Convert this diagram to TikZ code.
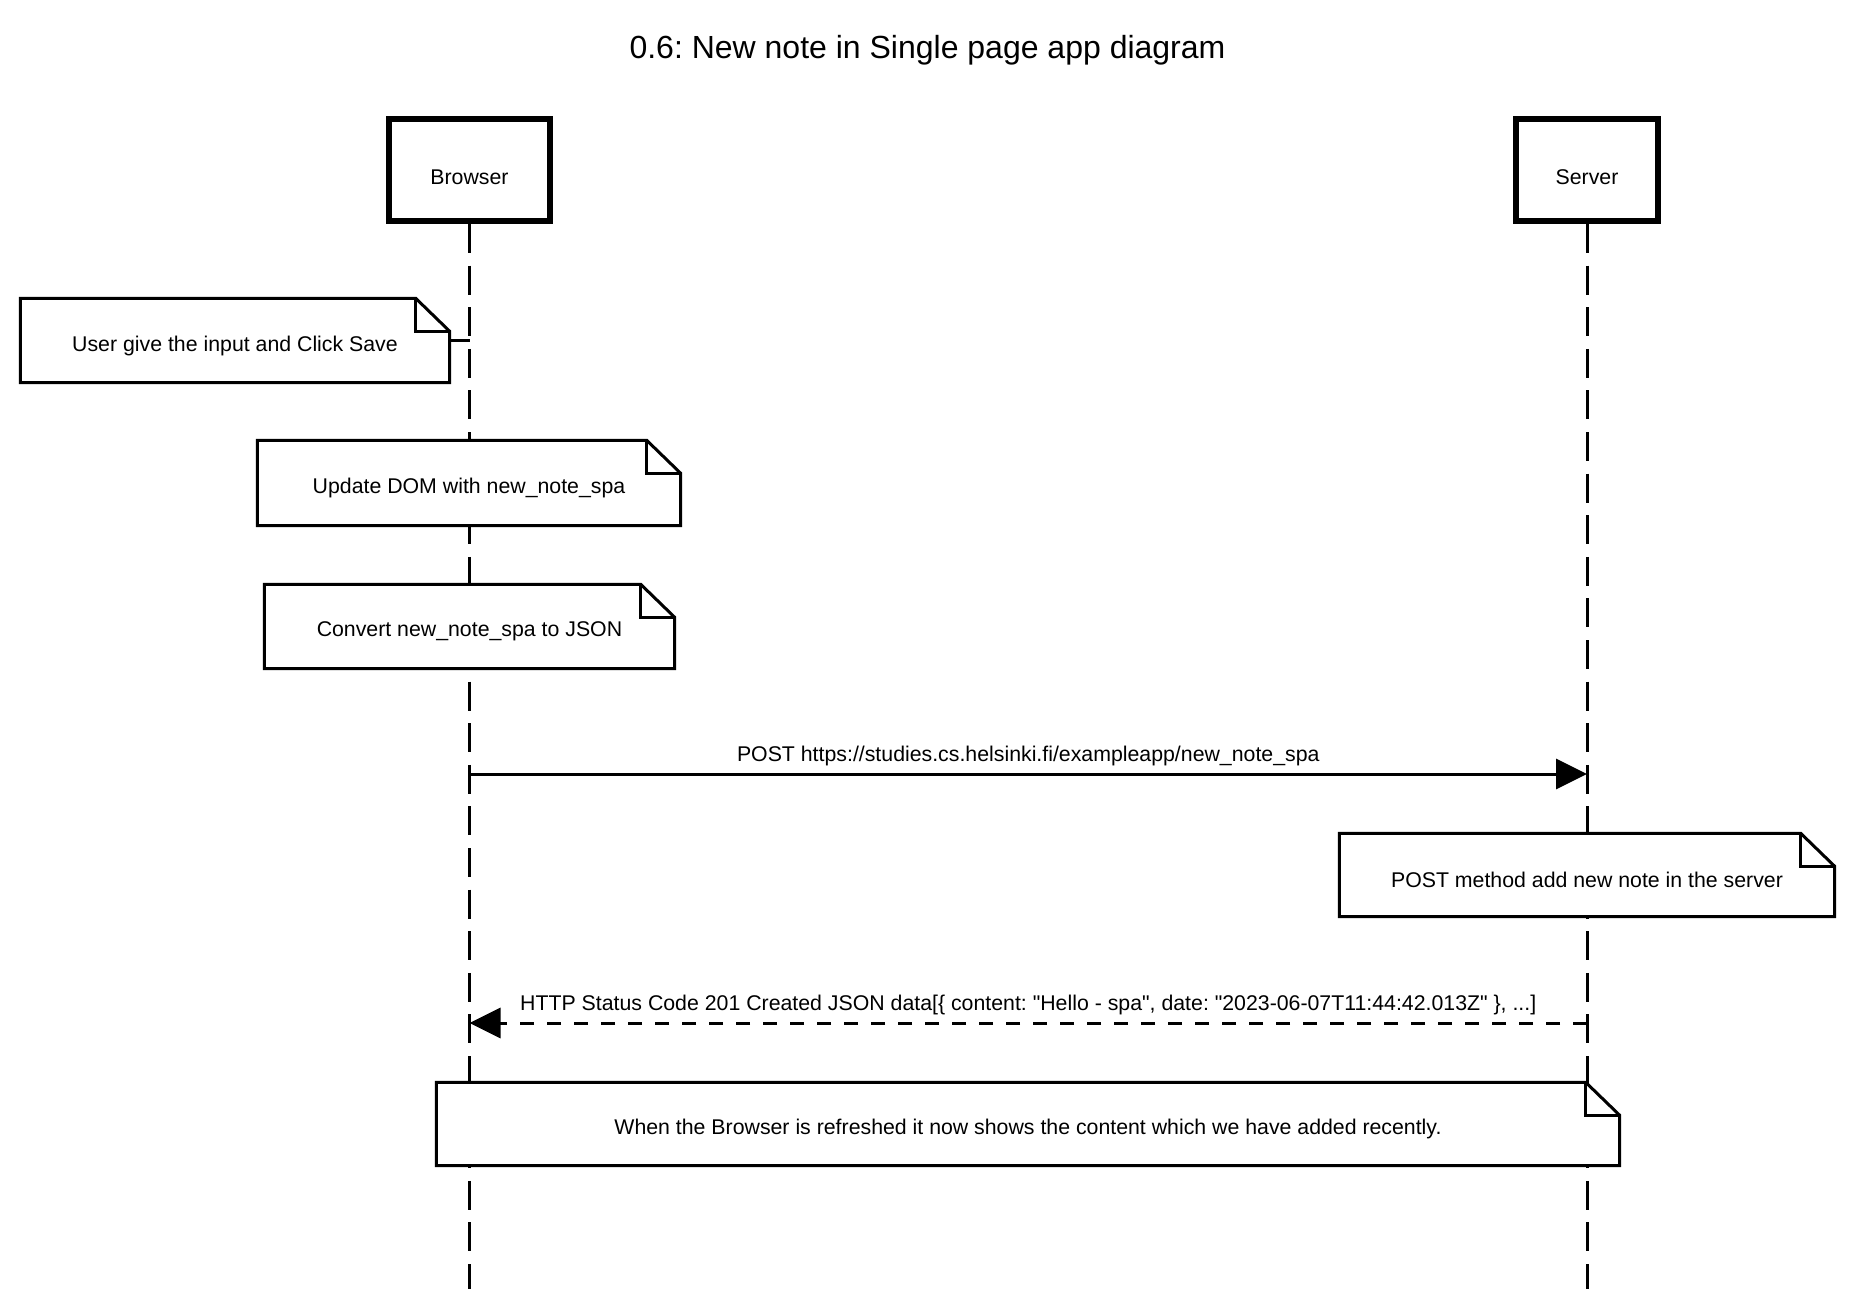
\documentclass[tikz,border=0pt]{standalone}
\usepackage{fontspec}
\setmainfont{Liberation Sans}
\usetikzlibrary{arrows.meta}
\frenchspacing

\tikzset{
  base/.style={font=\fontsize{21.3}{25}\selectfont, text=black},
  actor/.style={base, draw=black, line width=6pt, fill=white, inner sep=0pt, minimum height=102pt},
  notebox/.style={base, inner sep=0pt},
  noteline/.style={draw=black, line width=3pt, line join=miter},
  lifeline/.style={draw=black, line width=3pt, dash pattern=on 29pt off 12.6pt},
  msg/.style={draw=black, line width=3pt, -{Triangle[length=31pt,width=30pt]}},
  reply/.style={msg, dash pattern=on 14pt off 13pt},
}

% folded-corner outline around a note node
\newcommand\foldnote[1]{%
  \filldraw[noteline, fill=white] (#1.north west) -- ([xshift=-34pt]#1.north east)
    -- ([yshift=-33pt]#1.north east) -- (#1.south east) -- (#1.south west) -- cycle;
  \draw[noteline] ([xshift=-34pt]#1.north east) |- ([yshift=-33pt]#1.north east);
}
\newcommand\qq{\textquotedbl}

\begin{document}
\begin{tikzpicture}[x=1pt, y=-1pt]
  \useasboundingbox[fill=white] (0,0) rectangle (1855,1299);

  % title
  \node[base, font=\fontsize{32}{38}\selectfont] (title) at (927.5,50) {0.6: New note in Single page app diagram};

  % participants
  \node[actor, minimum width=161pt] (browser) at (469.5,170) {};
  \node[actor, minimum width=142pt] (server) at (1587,170) {};

  \coordinate (bEnd) at (469.5,1289);
  \coordinate (sEnd) at (1587,1289);
  \draw[lifeline] (browser.south) -- (bEnd);
  \draw[lifeline] (server.south) -- (sEnd);
  % redraw the boxes over the lifeline tops
  \node[actor, minimum width=161pt] at (browser) {};
  \node[actor, minimum width=142pt] at (server) {};
  \node[base, yshift=-7pt] at (browser) {Browser};
  \node[base, yshift=-7pt] at (server) {Server};

  % notes
  \node[notebox, minimum width=429pt, minimum height=84pt] (n1) at (235,340.5) {};
  \draw[noteline] (n1.east) -- (n1.east -| browser);
  \foldnote{n1}
  \node[base, yshift=-5pt] at (n1) {User give the input and Click Save};

  \node[notebox, minimum width=423pt, minimum height=85pt] (n2) at (469,483) {};
  \foldnote{n2}
  \node[base, yshift=-5pt] at (n2) {Update DOM with new\_note\_spa};

  \node[notebox, minimum width=410pt, minimum height=84pt] (n3) at (469.5,626.5) {};
  \foldnote{n3}
  \node[base, yshift=-5pt] at (n3) {Convert new\_note\_spa to JSON};

  % request
  \coordinate (postB) at (469.5,774);
  \coordinate (postS) at (1587,774);
  \draw[msg] (postB) -- (postS)
    node[base, midway, above=3.5pt] (postlbl) {POST https://studies.cs.helsinki.fi/exampleapp/new\_note\_spa};

  \node[notebox, minimum width=495pt, minimum height=83pt] (n4) at (1587,875) {};
  \foldnote{n4}
  \node[base, yshift=-5pt] at (n4) {POST method add new note in the server};

  % response
  \coordinate (respS) at (1587,1023);
  \coordinate (respB) at (469.5,1023);
  \draw[reply] (respS) -- (respB)
    node[base, midway, above=3.5pt] (resplbl) {HTTP Status Code 201 Created JSON data[\{ content: \qq Hello - spa\qq, date: \qq 2023-06-07T11:44:42.013Z\qq\ \}, ...]};

  \node[notebox, minimum width=1183pt, minimum height=83pt] (n5) at (1028,1124) {};
  \foldnote{n5}
  \node[base, yshift=-5pt] at (n5) {When the Browser is refreshed it now shows the content which we have added recently.};
\end{tikzpicture}
\end{document}
